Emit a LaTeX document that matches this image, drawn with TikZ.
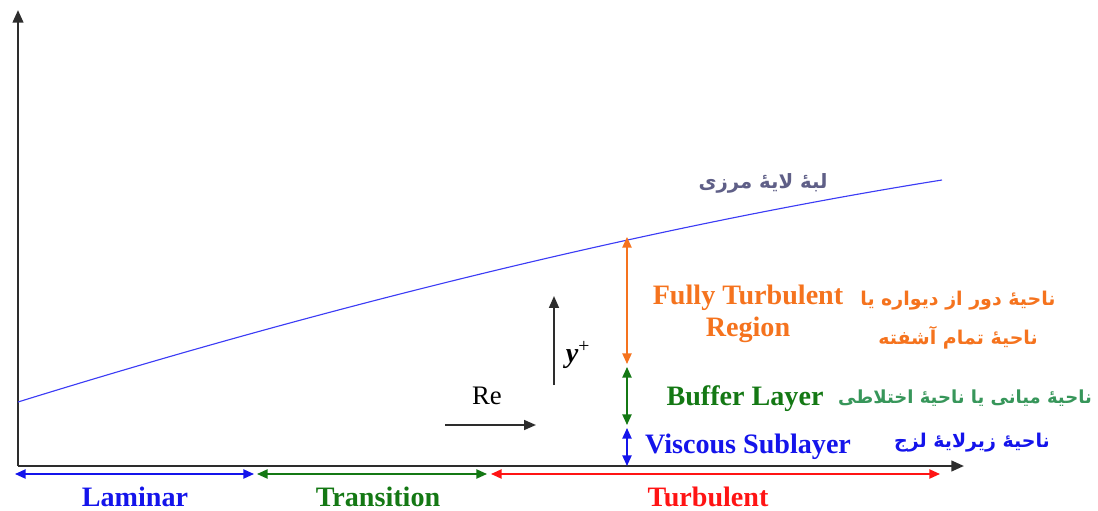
\documentclass[tikz,border=0pt]{standalone}
\usepackage{fontspec}
\setmainfont{Liberation Serif}
\newfontfamily\arabicfont[Script=Arabic]{DejaVu Sans}
\TeXXeTstate=1
\usetikzlibrary{arrows.meta}
\definecolor{axisgray}{RGB}{45,45,45}
\definecolor{lamblue}{RGB}{20,20,235}
\definecolor{trgreen}{RGB}{20,120,20}
\definecolor{faagreen}{RGB}{55,150,90}
\definecolor{turbred}{RGB}{255,20,20}
\definecolor{ftorange}{RGB}{245,115,30}
\definecolor{edgeblue}{RGB}{60,60,245}
\definecolor{edgelabel}{RGB}{95,95,135}

\tikzset{
  axis/.style={line width=1.7pt, axisgray, -{Triangle[length=9pt,width=7.5pt]}},
  span/.style={line width=1.1pt, {Triangle[length=7.5pt,width=6.5pt]}-{Triangle[length=7.5pt,width=6.5pt]}},
  dirarrow/.style={line width=1.4pt, axisgray, -{Triangle[length=8.5pt,width=7pt]}},
  entxt/.style={font=\bfseries\fontsize{20}{23}\selectfont},
  fatxt/.style={font=\arabicfont\bfseries\fontsize{13.5}{28}\selectfont, align=center}
}

\begin{document}
\begin{tikzpicture}[x=0.025cm, y=-0.025cm]

% Frame (pixel grid of the reference)
\useasboundingbox (0,0) rectangle (1098,511);

% Axes
\coordinate (o) at (18,466);
\coordinate (ytop) at (18,10);
\coordinate (xend) at (964,466);
\draw[axis] (o) -- (ytop);
\draw[axis] (o) -- (xend);

% Boundary layer edge
\coordinate (e0) at (18,402);
\coordinate (e1) at (942,180);
\draw[edgeblue, line width=0.8pt] (e0) .. controls (318,309) and (642,228) .. (e1);
\node[text=edgelabel, font=\arabicfont\bfseries\fontsize{14}{16}\selectfont] (edge) at (763,183) {\beginR لبهٔ لایهٔ مرزی\endR};

% Flow regimes along the wall
\coordinate (r0) at (15,474);
\coordinate (r1) at (254,474);
\coordinate (r2) at (257,474);
\coordinate (r3) at (487,474);
\coordinate (r4) at (491,474);
\coordinate (r5) at (940,474);
\draw[span, lamblue] (r0) -- (r1);
\draw[span, trgreen] (r2) -- (r3);
\draw[span, turbred] (r4) -- (r5);
\node[entxt, text=lamblue] (lam) at (135,497) {Laminar};
\node[entxt, text=trgreen] (trans) at (378,497) {Transition};
\node[entxt, text=turbred] (turb) at (708,497) {Turbulent};

% Layers across the boundary layer
\coordinate (w0) at (627,237);
\coordinate (w1) at (627,364);
\coordinate (w2) at (627,367);
\coordinate (w3) at (627,425);
\coordinate (w4) at (627,428);
\coordinate (w5) at (627,466);
\draw[span, ftorange] (w0) -- (w1);
\draw[span, trgreen] (w2) -- (w3);
\draw[span, lamblue] (w4) -- (w5);

\node[entxt, text=ftorange, align=center] (full) at (748,314) {Fully Turbulent\\Region};
\node[entxt, text=trgreen] (buffer) at (745,399) {Buffer Layer};
\node[entxt, text=lamblue] (visc) at (748,447) {Viscous Sublayer};

\node[fatxt, text=ftorange] (fullfa) at (958,320) {\beginR ناحیهٔ دور از دیواره یا\endR\\\beginR ناحیهٔ تمام آشفته\endR};
\node[fatxt, text=faagreen, font=\arabicfont\bfseries\fontsize{12.8}{16}\selectfont] (bufferfa) at (965,398) {\beginR ناحیهٔ میانی یا ناحیهٔ اختلاطی\endR};
\node[fatxt, text=lamblue] (viscfa) at (972,443) {\beginR ناحیهٔ زیرلایهٔ لزج\endR};

% Directions
\coordinate (yp0) at (554,385);
\coordinate (yp1) at (554,296);
\draw[dirarrow] (yp0) -- (yp1);
\node[font=\fontsize{20}{24}\selectfont] (yplus) at (578,355) {\textbf{\textit{y}}\textsuperscript{+}};
\coordinate (re0) at (445,425);
\coordinate (re1) at (536,425);
\draw[dirarrow] (re0) -- (re1);
\node[font=\fontsize{19}{22}\selectfont] (re) at (487,396) {Re};

\end{tikzpicture}
\end{document}
